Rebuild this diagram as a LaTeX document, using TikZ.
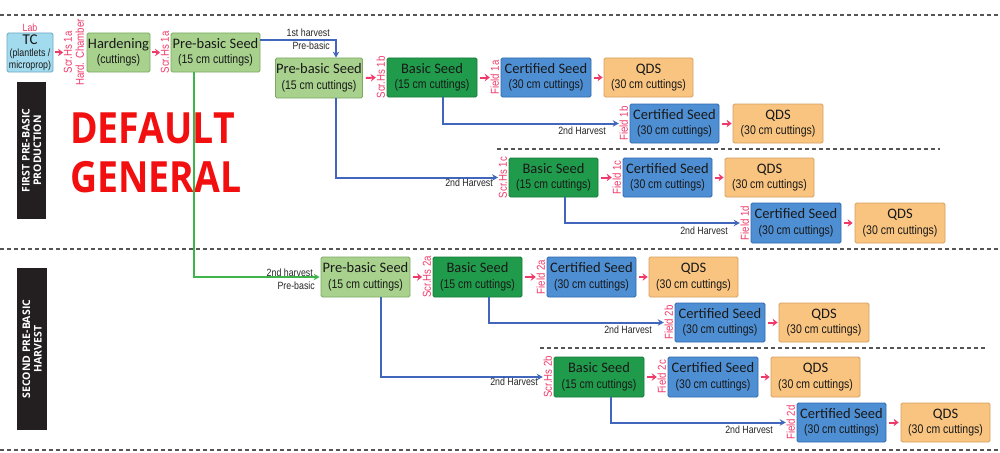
\documentclass[tikz,border=0pt]{standalone}
\usepackage{fontspec}
\setmainfont{Liberation Sans}
\newfontfamily\ttlfont{Carlito}
\newfontfamily\nrwfont[FakeStretch=0.84]{Liberation Sans}
\newfontfamily\hdfont{Open Sans}
\newfontfamily\bigfont[FakeStretch=0.87]{Open Sans}
\usetikzlibrary{arrows.meta}
\definecolor{tcfill}{HTML}{A3DBEE}
\definecolor{tcdraw}{HTML}{6FA8C4}
\definecolor{lgfill}{HTML}{A8D18D}
\definecolor{lgdraw}{HTML}{7DAA63}
\definecolor{dgfill}{HTML}{1F9B4B}
\definecolor{dgdraw}{HTML}{177A3A}
\definecolor{cbfill}{HTML}{4E8FD4}
\definecolor{cbdraw}{HTML}{2E6AAE}
\definecolor{qfill}{HTML}{F9C480}
\definecolor{qdraw}{HTML}{D6A060}
\definecolor{pinkc}{HTML}{EF3B6A}
\definecolor{conblue}{HTML}{4266BC}
\definecolor{congreen}{HTML}{3DB54A}
\definecolor{dashc}{HTML}{555555}
\definecolor{bigred}{HTML}{F20F0F}
\definecolor{secblack}{HTML}{231F20}
\newcommand{\mysub}[1]{{\nrwfont\fontsize{12.5}{15.5}\selectfont #1}}
\newcommand{\mysubs}[1]{{\nrwfont\fontsize{10.5}{12}\selectfont #1}}
\tikzset{
  box/.style={draw, line width=0.8pt, rounded corners=1.5pt, minimum height=39pt,
    minimum width=89pt, inner sep=0pt, align=center, text=black!90,
    font=\ttlfont\fontsize{14.5}{15.5}\selectfont},
  pbox/.style={box, fill=lgfill, draw=lgdraw},
  bbox/.style={box, fill=dgfill, draw=dgdraw},
  cbox/.style={box, fill=cbfill, draw=cbdraw},
  qbox/.style={box, fill=qfill, draw=qdraw},
  rlab/.style={rotate=90, anchor=south, inner sep=0.5pt, align=center, text=pinkc,
    font=\nrwfont\fontsize{11.5}{12}\selectfont},
  hlab/.style={inner sep=0pt, text=black!85, font=\nrwfont\fontsize{10.5}{11}\selectfont},
  redarr/.style={draw=pinkc, line width=2pt, -{Stealth[length=5pt,width=7.5pt]}},
  bluecon/.style={draw=conblue, line width=2pt, -{Stealth[length=6pt,width=6.5pt]}},
  greencon/.style={draw=congreen, line width=2pt, -{Stealth[length=6pt,width=6.5pt]}},
  dashline/.style={draw=dashc, line width=1.8pt, dash pattern=on 4pt off 3pt},
  secbox/.style={fill=secblack, draw=none},
  sectext/.style={rotate=90, text=white, align=center, inner sep=0pt,
    font=\hdfont\bfseries\fontsize{10.5}{11.5}\selectfont},
  bigtext/.style={text=bigred, inner sep=0pt, anchor=base west,
    font=\bigfont\bfseries\fontsize{43}{49}\selectfont}
}
\begin{document}
\begin{tikzpicture}[x=1pt,y=-1pt]
\useasboundingbox (0,0) rectangle (1000,452);
% dashed separators
\draw[dashline] (0,15) -- (1000,15);
\draw[dashline] (0,249) -- (1000,249);
\draw[dashline] (0,450) -- (1000,450);
\draw[dashline] (497,149) -- (940,149);
\draw[dashline] (540,348) -- (987,348);
% section labels
\fill[secbox] (17,82) rectangle (46,219);
\node[sectext] (sec1) at (31.5,150.5) {FIRST PRE-BASIC\\PRODUCTION};
\fill[secbox] (17,268) rectangle (47,430);
\node[sectext] (sec2) at (32,349) {SECOND PRE-BASIC\\HARVEST};
% big red text
\node[bigtext] (def1) at (70,143) {DEFAULT};
\node[bigtext] (def2) at (70,192) {GENERAL};
% first row
\node[box, fill=tcfill, draw=tcdraw, minimum width=46pt, font=\ttlfont\fontsize{15}{12}\selectfont] (tc) at (30,52.5) {TC\\\mysubs{(plantlets /}\\\mysubs{microprop)}};
\node[inner sep=0pt, text=pinkc, font=\nrwfont\fontsize{10.5}{11}\selectfont] (lab) at (30,27.5) {Lab};
\node[pbox, minimum width=63pt] (hard) at (118.5,52.5) {Hardening\\\mysub{(cuttings)}};
\node[rlab] (s1a0) at ([xshift=-2pt]hard.west) {Scr.Hs 1a\\Hard. Chamber};
\node[pbox] (pb1) at (215.5,52.5) {Pre-basic Seed\\\mysub{(15 cm cuttings)}};
\node[rlab] (s1a1) at ([xshift=-1pt]pb1.west) {Scr.Hs 1a};
\node[pbox, minimum width=87pt, minimum height=40pt] (pb2) at (319,78) {Pre-basic Seed\\\mysub{(15 cm cuttings)}};
\node[bbox, minimum width=90pt] (b1) at (432,77.5) {Basic Seed\\\mysub{(15 cm cuttings)}};
\node[rlab] (s1b) at ([xshift=-1pt]b1.west) {Scr.Hs 1b};
\node[cbox, minimum width=90pt] (c1a) at (546,77.5) {Certified Seed\\\mysub{(30 cm cuttings)}};
\node[rlab] (f1a) at ([xshift=-1pt]c1a.west) {Field 1a};
\node[qbox] (q1a) at (648.5,77.5) {QDS\\\mysub{(30 cm cuttings)}};
\node[cbox] (c1b) at (674.5,123.5) {Certified Seed\\\mysub{(30 cm cuttings)}};
\node[rlab] (f1b) at ([xshift=-1pt]c1b.west) {Field 1b};
\node[qbox, minimum width=90pt] (q1b) at (778,123.5) {QDS\\\mysub{(30 cm cuttings)}};
\node[bbox] (b1c) at (553.5,177.5) {Basic Seed\\\mysub{(15 cm cuttings)}};
\node[rlab] (s1c) at ([xshift=-1pt]b1c.west) {Scr.Hs 1c};
\node[cbox] (c1c) at (667.5,177.5) {Certified Seed\\\mysub{(30 cm cuttings)}};
\node[rlab] (f1c) at ([xshift=-1pt]c1c.west) {Field 1c};
\node[qbox] (q1c) at (769.5,177.5) {QDS\\\mysub{(30 cm cuttings)}};
\node[cbox, minimum width=90pt, minimum height=40pt] (c1d) at (796,223) {Certified Seed\\\mysub{(30 cm cuttings)}};
\node[rlab] (f1d) at ([xshift=-1pt]c1d.west) {Field 1d};
\node[qbox, minimum width=90pt, minimum height=40pt] (q1d) at (900,223) {QDS\\\mysub{(30 cm cuttings)}};
% second section
\node[pbox, minimum height=40pt] (pb2a) at (365.5,277) {Pre-basic Seed\\\mysub{(15 cm cuttings)}};
\node[bbox, minimum height=40pt] (b2a) at (477.5,277) {Basic Seed\\\mysub{(15 cm cuttings)}};
\node[rlab] (s2a) at ([xshift=-1pt]b2a.west) {Scr.Hs 2a};
\node[cbox, minimum height=40pt] (c2a) at (591.5,277) {Certified Seed\\\mysub{(30 cm cuttings)}};
\node[rlab] (f2a) at ([xshift=-1pt]c2a.west) {Field 2a};
\node[qbox, minimum height=40pt] (q2a) at (693.5,277) {QDS\\\mysub{(30 cm cuttings)}};
\node[cbox, minimum width=90pt] (c2b) at (720,322.5) {Certified Seed\\\mysub{(30 cm cuttings)}};
\node[rlab] (f2b) at ([xshift=-1pt]c2b.west) {Field 2b};
\node[qbox, minimum width=90pt] (q2b) at (824,322.5) {QDS\\\mysub{(30 cm cuttings)}};
\node[bbox, minimum width=90pt, minimum height=40pt] (b2b) at (599,377) {Basic Seed\\\mysub{(15 cm cuttings)}};
\node[rlab] (s2b) at ([xshift=-1pt]b2b.west) {Scr.Hs 2b};
\node[cbox, minimum width=90pt, minimum height=40pt] (c2c) at (713,377) {Certified Seed\\\mysub{(30 cm cuttings)}};
\node[rlab] (f2c) at ([xshift=-1pt]c2c.west) {Field 2c};
\node[qbox, minimum height=40pt] (q2c) at (815.5,377) {QDS\\\mysub{(30 cm cuttings)}};
\node[cbox] (c2d) at (841.5,422.5) {Certified Seed\\\mysub{(30 cm cuttings)}};
\node[rlab] (f2d) at ([xshift=-1pt]c2d.west) {Field 2d};
\node[qbox] (q2d) at (945.5,422.5) {QDS\\\mysub{(30 cm cuttings)}};
% red arrows
\draw[redarr] ([xshift=2pt]tc.east) -- (s1a0.north);
\draw[redarr] ([xshift=2pt]hard.east) -- (s1a1.north);
\draw[redarr] ([xshift=3pt]pb2.east) -- (s1b.north);
\draw[redarr] ([xshift=3pt]b1.east) -- (f1a.north);
\draw[redarr] ([xshift=3pt]c1a.east) -- ([xshift=-1pt]q1a.west);
\draw[redarr] ([xshift=3pt]c1b.east) -- ([xshift=-1pt]q1b.west);
\draw[redarr] ([xshift=3pt]b1c.east) -- (f1c.north);
\draw[redarr] ([xshift=3pt]c1c.east) -- ([xshift=-1pt]q1c.west);
\draw[redarr] ([xshift=3pt]c1d.east) -- ([xshift=-2pt]q1d.west);
\draw[redarr] ([xshift=3pt]pb2a.east) -- (s2a.north);
\draw[redarr] ([xshift=3pt]b2a.east) -- (f2a.north);
\draw[redarr] ([xshift=3pt]c2a.east) -- ([xshift=-1pt]q2a.west);
\draw[redarr] ([xshift=3pt]c2b.east) -- ([xshift=-1pt]q2b.west);
\draw[redarr] ([xshift=3pt]b2b.east) -- (f2c.north);
\draw[redarr] ([xshift=3pt]c2c.east) -- ([xshift=-1pt]q2c.west);
\draw[redarr] ([xshift=3pt]c2d.east) -- ([xshift=-2pt]q2d.west);
% blue connectors
\draw[bluecon] ([yshift=12.5pt]pb1.east) -| ([xshift=17pt]pb2.north);
\node[hlab, anchor=east] (h1) at (330,33) {1st harvest};
\node[hlab, anchor=east] (h2) at (330,46) {Pre-basic};
\draw[bluecon] ([xshift=17pt]pb2.south) |- (s1c.north);
\node[hlab, anchor=east] (h3) at (493,183) {2nd Harvest};
\draw[bluecon] ([xshift=11pt]b1.south) |- (f1b.north);
\node[hlab, anchor=east] (h4) at (606,131) {2nd Harvest};
\draw[bluecon] ([xshift=11.5pt]b1c.south) |- (f1d.north);
\node[hlab, anchor=east] (h5) at (728,231) {2nd Harvest};
\draw[bluecon] ([xshift=15.5pt]pb2a.south) |- (s2b.north);
\node[hlab, anchor=east] (h6) at (538,382) {2nd Harvest};
\draw[bluecon] ([xshift=11.5pt]b2a.south) |- (f2b.north);
\node[hlab, anchor=east] (h7) at (652,330) {2nd Harvest};
\draw[bluecon] ([xshift=12pt]b2b.south) |- (f2d.north);
\node[hlab, anchor=east] (h8) at (773,430) {2nd Harvest};
% green connector
\draw[greencon] ([xshift=-21.5pt]pb1.south) |- ([xshift=-1pt]pb2a.west);
\node[hlab, anchor=east] (h9) at (313,273) {2nd harvest};
\node[hlab, anchor=east] (h10) at (315,286) {Pre-basic};
\end{tikzpicture}
\end{document}
